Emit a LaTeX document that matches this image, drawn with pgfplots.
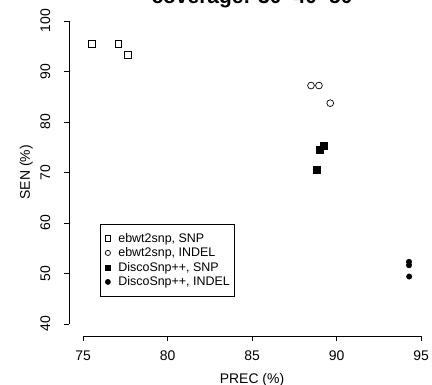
\documentclass[border=0pt]{standalone}
\usepackage{fontspec}
\setmainfont{Liberation Sans}
\usepackage{pgfplots}
\pgfplotsset{compat=1.18}
\begin{document}
\begin{tikzpicture}
\begin{axis}[
 scale only axis, width=365bp, height=327.2bp,
 xmin=74.2, xmax=95.8, ymin=37.6, ymax=102.4,
 axis x line*=bottom, axis y line*=left,
 axis line style={draw=none},
 tick align=outside, major tick length=5bp,
 tick style={black, line width=0.7bp},
 xtick={75,80,85,90,95}, ytick={40,50,60,70,80,90,100},
 /pgf/number format/assume math mode=true,
 ticklabel style={font=\fontsize{14}{16}\selectfont},
 xticklabel style={inner ysep=10bp},
 yticklabel style={rotate=90, anchor=south, inner ysep=14bp},
 clip=false,
 legend style={at={(axis cs:76.0,59.8)}, anchor=north west, font=\fontsize{12.5}{14.8}\selectfont, draw=black, line width=0.6bp, row sep=0bp, inner xsep=2bp, inner ysep=7bp},
 legend cell align=left,
 legend image code/.code={\path[draw=none, fill=none] (0cm,-0.1cm) rectangle (0.5cm,0.1cm); \draw[#1, mark size=2.6bp] plot coordinates {(0.2cm,0cm)};},
]
\addplot[only marks, mark=square, mark size=3.3bp, line width=0.7bp] coordinates {(75.51,95.45) (77.09,95.45) (77.64,93.27)};
\addlegendentry{ebwt2snp, SNP}
\addplot[only marks, mark=o, mark size=3.4bp, line width=0.7bp] coordinates {(88.49,87.19) (88.96,87.19) (89.63,83.7)};
\addlegendentry{ebwt2snp, INDEL}
\addplot[only marks, mark=square*, mark size=3.3bp, line width=0.5bp] coordinates {(89.26,75.25) (89.02,74.46) (88.83,70.5)};
\addlegendentry{DiscoSnp++, SNP}
\addplot[only marks, mark=*, mark size=2.7bp, line width=0.5bp] coordinates {(94.29,52.28) (94.29,51.6) (94.3,49.37)};
\addlegendentry{DiscoSnp++, INDEL}
\draw[line width=0.7bp] (axis cs:75,37.6) -- (axis cs:95,37.6);
\draw[line width=0.7bp] (axis cs:74.2,40) -- (axis cs:74.2,100);
\node[anchor=base, font=\fontsize{14}{16}\selectfont] at (axis cs:85,28.1) {PREC (\%)};
\node[anchor=base, rotate=90, font=\fontsize{14}{16}\selectfont] at (axis cs:71.86,70) {SEN (\%)};
\node[anchor=base, font=\bfseries\fontsize{21}{24}\selectfont] at (axis cs:85,103.34) {coverage: 30\textminus40\textminus50};
\coordinate (BL) at (axis cs:70.088,27.9);
\coordinate (TR) at (axis cs:95.65,104.13);
\end{axis}
\pgfresetboundingbox
\path[use as bounding box] (BL) rectangle (TR);
\end{tikzpicture}
\end{document}
